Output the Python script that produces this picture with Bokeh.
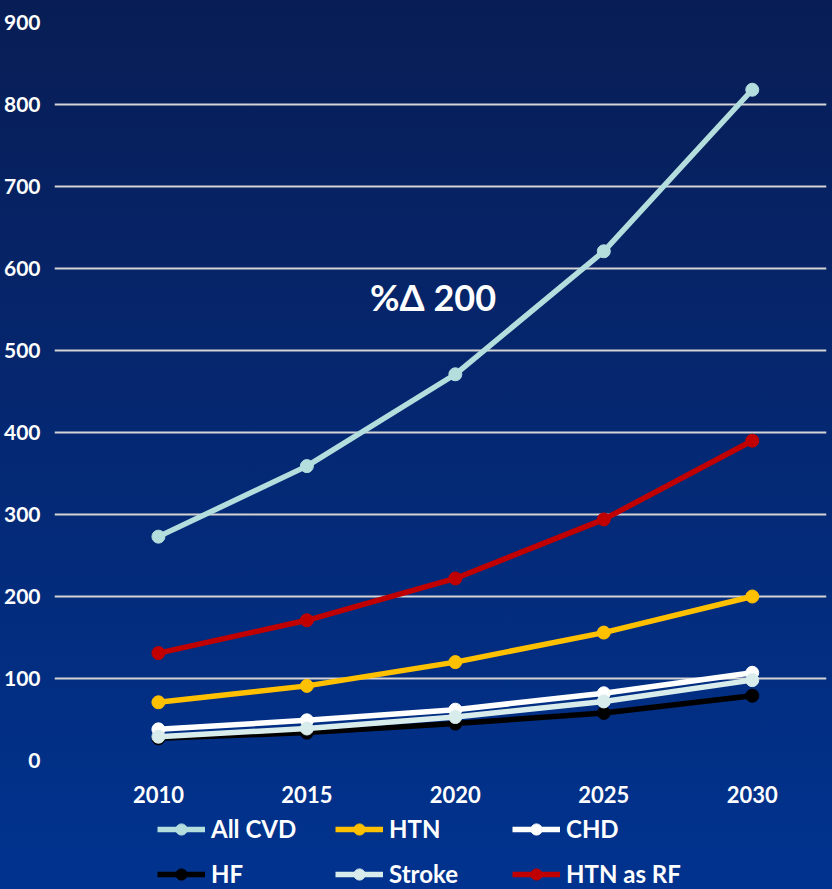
from bokeh.plotting import figure
from bokeh.layouts import column
from bokeh.models import (Range1d, FixedTicker, Legend, LegendItem, Label)
from bokeh.embed import file_html
from bokeh.resources import INLINE

years = [2010, 2015, 2020, 2025, 2030]
all_cvd = [273, 359, 471, 621, 818]
htn = [71, 91, 120, 156, 200]
chd = [38, 49, 62, 82, 107]
hf = [27, 34, 45, 58, 79]
stroke = [29, 39, 53, 72, 98]
htn_rf = [131, 171, 222, 294, 390]

series_names = ["All CVD", "HTN", "CHD", "HF", "Stroke", "HTN as RF"]
series_values = [all_cvd, htn, chd, hf, stroke, htn_rf]
series_colors = ["#b4dede", "#ffc000", "#ffffff", "#000000", "#d8ecec", "#c00000"]

y_ticks = [0, 100, 200, 300, 400, 500, 600, 700, 800, 900]
annotation = "%Δ 200"

FONT = "Lato"
W = 832
H_MAIN = 815
H_LEG = 889 - H_MAIN

p = figure(width=W, height=H_MAIN, output_backend="svg", toolbar_location=None,
           x_range=Range1d(2006.5, 2032.50), y_range=Range1d(0, 900),
           min_border_left=52, min_border_right=6, min_border_top=22,
           min_border_bottom=H_MAIN - 760)
p.background_fill_alpha = 0
p.border_fill_alpha = 0
p.outline_line_color = None

p.xgrid.grid_line_color = None
p.ygrid.grid_line_color = "#d4d4d4"
p.ygrid.grid_line_width = 2

p.yaxis.ticker = FixedTicker(ticks=y_ticks)
p.xaxis.ticker = FixedTicker(ticks=years)
for ax in (p.xaxis[0], p.yaxis[0]):
    ax.axis_line_color = None
    ax.major_tick_line_color = None
    ax.minor_tick_line_color = None
    ax.major_tick_out = 0
    ax.major_tick_in = 0
    ax.major_label_text_color = "white"
    ax.major_label_text_font = FONT
    ax.major_label_text_font_style = "bold"
p.yaxis.major_label_text_font_size = "21px"
p.xaxis.major_label_text_font_size = "22px"
p.yaxis.major_label_standoff = 14
p.xaxis.major_label_standoff = 25

for name, vals, col in zip(series_names, series_values, series_colors):
    p.line(years, vals, line_color=col, line_width=5.5)
    p.scatter(years, vals, size=13, fill_color=col, line_color=col)

p.add_layout(Label(x=2019.25, y=565, text=annotation, text_align="center",
                   text_baseline="middle", text_color="white",
                   text_font=FONT, text_font_style="bold",
                   text_font_size="36px"))

# legend strip (separate figure so the entries are not clipped by the chart frame)
q = figure(width=W, height=H_LEG, output_backend="svg", toolbar_location=None,
           x_range=Range1d(0, 1), y_range=Range1d(0, 1),
           x_axis_location=None, y_axis_location=None,
           min_border=0, min_border_left=0, min_border_right=0,
           min_border_top=0, min_border_bottom=0)
q.grid.visible = False
q.background_fill_alpha = 0
q.border_fill_alpha = 0
q.outline_line_color = None

positions = [(103, H_LEG - 28), (281, H_LEG - 28), (458, H_LEG - 28),
             (103, H_LEG - 73), (281, H_LEG - 73), (458, H_LEG - 73)]
for name, vals, col, loc in zip(series_names, series_values, series_colors, positions):
    # same data, outside this strip's ranges: only the legend samples show
    l = q.line(years, vals, line_color=col, line_width=5.5)
    s = q.scatter(years, vals, size=13, fill_color=col, line_color=col)
    lg = Legend(items=[LegendItem(label=name, renderers=[l, s])], location=loc,
                orientation="horizontal", padding=0, margin=0, spacing=0,
                glyph_width=48, glyph_height=28, label_height=28,
                label_standoff=6, background_fill_alpha=0,
                border_line_alpha=0, label_text_color="white",
                label_text_font=FONT, label_text_font_style="bold",
                label_text_font_size="24px")
    q.add_layout(lg, "center")

layout = column(p, q, spacing=0)
layout.styles = {"background": "linear-gradient(180deg, #081d55 0%, #052770 45%, #00338f 100%)"}

open("out.html", "w").write(file_html(layout, INLINE))
